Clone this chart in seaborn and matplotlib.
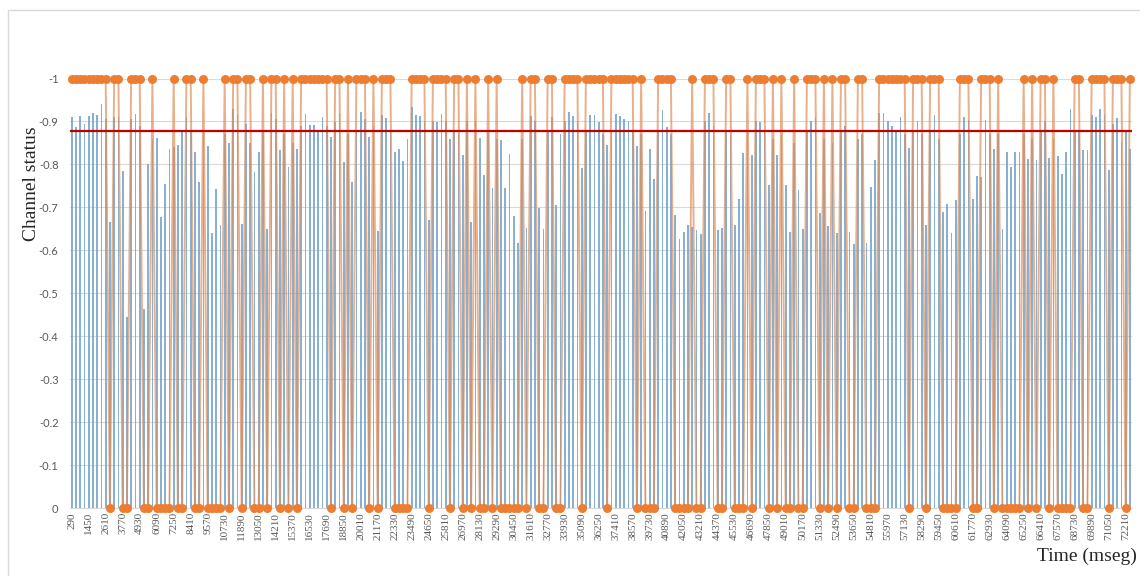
import numpy as np
import pandas as pd
import matplotlib
matplotlib.use("Agg")
import matplotlib.pyplot as plt
import seaborn as sns
from matplotlib.patches import Rectangle

# time axis (mseg), one sample every 290 ms
times = list(range(290, 72501, 290))

# channel quality (blue bars)
quality = [
    0.91, 0.887, 0.912, 0.895, 0.912, 0.919, 0.914, 0.94, 0.905, 0.665,
    0.91, 0.91, 0.784, 0.445, 0.905, 0.918, 0.89, 0.464, 0.80, 0.86,
    0.861, 0.677, 0.755, 0.835, 0.84, 0.846, 0.877, 0.91, 0.88, 0.83,
    0.759, 0.88, 0.842, 0.64, 0.743, 0.66, 0.87, 0.85, 0.93, 0.915,
    0.662, 0.895, 0.85, 0.782, 0.829, 0.88, 0.65, 0.92, 0.905, 0.833,
    0.87, 0.794, 0.85, 0.836, 0.89, 0.918, 0.892, 0.892, 0.879, 0.91,
    0.89, 0.864, 0.898, 0.92, 0.805, 0.87, 0.759, 0.88, 0.922, 0.906,
    0.864, 0.89, 0.645, 0.914, 0.909, 0.88, 0.83, 0.836, 0.809, 0.86,
    0.933, 0.914, 0.913, 0.90, 0.67, 0.90, 0.898, 0.918, 0.90, 0.86,
    0.88, 0.87, 0.822, 0.90, 0.666, 0.90, 0.861, 0.776, 0.88, 0.745,
    0.86, 0.856, 0.745, 0.825, 0.681, 0.617, 0.86, 0.652, 0.912, 0.90,
    0.698, 0.65, 0.88, 0.91, 0.705, 0.87, 0.90, 0.923, 0.912, 0.90,
    0.792, 0.88, 0.916, 0.916, 0.898, 0.87, 0.846, 0.88, 0.918, 0.912,
    0.906, 0.90, 0.88, 0.844, 0.87, 0.691, 0.836, 0.767, 0.88, 0.927,
    0.887, 0.87, 0.683, 0.626, 0.643, 0.66, 0.654, 0.647, 0.639, 0.90,
    0.919, 0.89, 0.647, 0.653, 0.88, 0.87, 0.66, 0.72, 0.826, 0.88,
    0.821, 0.90, 0.898, 0.88, 0.753, 0.86, 0.822, 0.87, 0.753, 0.643,
    0.85, 0.74, 0.65, 0.88, 0.90, 0.91, 0.687, 0.86, 0.656, 0.85,
    0.641, 0.88, 0.89, 0.643, 0.615, 0.86, 0.87, 0.617, 0.747, 0.81,
    0.92, 0.92, 0.90, 0.89, 0.88, 0.91, 0.87, 0.839, 0.88, 0.902,
    0.87, 0.66, 0.88, 0.915, 0.86, 0.689, 0.707, 0.64, 0.718, 0.87,
    0.91, 0.904, 0.72, 0.774, 0.77, 0.904, 0.87, 0.836, 0.87, 0.65,
    0.829, 0.794, 0.829, 0.829, 0.87, 0.813, 0.86, 0.81, 0.88, 0.90,
    0.815, 0.86, 0.82, 0.778, 0.829, 0.929, 0.875, 0.88, 0.834, 0.834,
    0.915, 0.91, 0.929, 0.914, 0.786, 0.895, 0.909, 0.852, 0.875, 0.835,
]

# channel status (orange, 1 = on / 0 = off)
status = [
    1, 1, 1, 1, 1, 1, 1, 1, 1, 0,
    1, 1, 0, 0, 1, 1, 1, 0, 0, 1,
    0, 0, 0, 0, 1, 0, 0, 1, 1, 0,
    0, 1, 0, 0, 0, 0, 1, 0, 1, 1,
    0, 1, 1, 0, 0, 1, 0, 1, 1, 0,
    1, 0, 1, 0, 1, 1, 1, 1, 1, 1,
    1, 0, 1, 1, 0, 1, 0, 1, 1, 1,
    0, 1, 0, 1, 1, 1, 0, 0, 0, 0,
    1, 1, 1, 1, 0, 1, 1, 1, 1, 0,
    1, 1, 0, 1, 0, 1, 0, 0, 1, 0,
    1, 0, 0, 0, 0, 0, 1, 0, 1, 1,
    0, 0, 1, 1, 0, 0, 1, 1, 1, 1,
    0, 1, 1, 1, 1, 1, 0, 1, 1, 1,
    1, 1, 1, 0, 1, 0, 0, 0, 1, 1,
    1, 1, 0, 0, 0, 0, 1, 0, 0, 1,
    1, 1, 0, 0, 1, 1, 0, 0, 0, 1,
    0, 1, 1, 1, 0, 1, 0, 1, 0, 0,
    1, 0, 0, 1, 1, 1, 0, 1, 0, 1,
    0, 1, 1, 0, 0, 1, 1, 0, 0, 0,
    1, 1, 1, 1, 1, 1, 1, 0, 1, 1,
    1, 0, 1, 1, 1, 0, 0, 0, 0, 1,
    1, 1, 0, 0, 1, 1, 1, 0, 1, 0,
    0, 0, 0, 0, 1, 0, 1, 0, 1, 1,
    0, 1, 0, 0, 0, 0, 1, 1, 0, 0,
    1, 1, 1, 1, 0, 1, 1, 1, 0, 1,
]

threshold = 0.877
y_ticks = [0, 0.1, 0.2, 0.3, 0.4, 0.5, 0.6, 0.7, 0.8, 0.9, 1.0]
y_labels = ["0", "-0.1", "-0.2", "-0.3", "-0.4", "-0.5", "-0.6", "-0.7", "-0.8", "-0.9", "-1"]

df = pd.DataFrame({"time": times, "quality": quality, "status": status})
df["pos"] = np.arange(len(df))
n = len(df)

sns.set_style("white")
fig = plt.figure(figsize=(11.4, 5.76), dpi=100)
ax = fig.add_axes([0.061, 0.118, 0.932, 0.7457])

sns.barplot(data=df, x="time", y="quality", color="#6A9DC9", saturation=1,
            width=0.42, linewidth=0, ax=ax, alpha=0.8)
sns.lineplot(data=df, x="pos", y="status", color="#DE8E5A", linewidth=1.4,
             alpha=0.7, ax=ax, clip_on=False)
sns.scatterplot(data=df, x="pos", y="status", color="#ED7D31", s=42,
                linewidth=0, ax=ax, clip_on=False, zorder=4)
ax.axhline(threshold, color="#C00000", linewidth=1.6, zorder=5)

ax.set_xlim(-0.5, n - 0.5)
ax.set_ylim(0, 1)
ax.set_xticks(range(0, n, 4))
ax.set_xticklabels([str(t) for t in times[::4]], rotation=90,
                   fontsize=8, color="#595959", family="Liberation Serif")
ax.set_yticks(y_ticks)
ax.set_yticklabels(y_labels, fontsize=8, color="#595959", family="Lato")
ax.tick_params(axis="both", length=0)
ax.tick_params(axis="y", pad=8)
ax.tick_params(axis="x", pad=3)
ax.yaxis.grid(True, color="#D9D9D9", linewidth=0.8, linestyle="-")
ax.set_axisbelow(True)
for s in ["left", "right", "top"]:
    ax.spines[s].set_visible(False)
ax.spines["bottom"].set_color("#D9D9D9")
ax.set_xlabel("")
ax.set_ylabel("")

fig.text(32 / 1140, 1 - 184 / 576, "Channel status", rotation=90,
         ha="center", va="center", fontsize=14, family="Liberation Serif")
fig.text(1137 / 1140, 1 - 556 / 576, "Time (mseg)", ha="right", va="center",
         fontsize=14, family="Liberation Serif")

fig.patches.append(Rectangle((8 / 1140, -0.1), 1.2, 1 - 10 / 576 + 0.1,
                             transform=fig.transFigure, fill=False,
                             edgecolor="#D9D9D9", linewidth=1))

fig.savefig("out.png", dpi=100)
